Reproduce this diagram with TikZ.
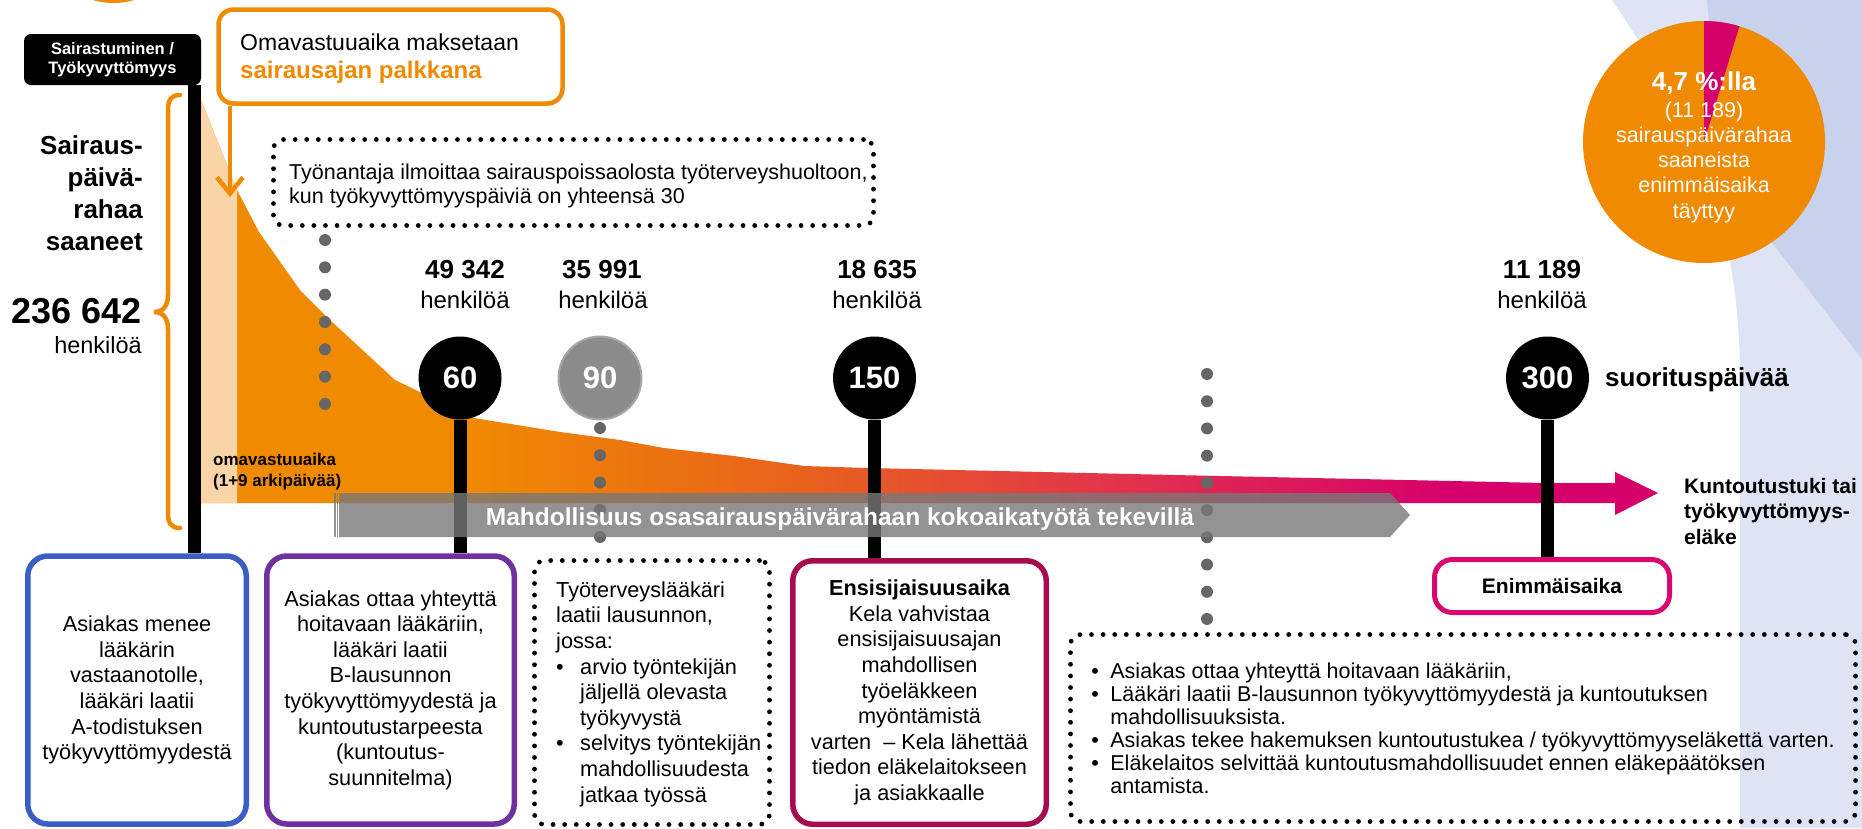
\documentclass[tikz,border=0pt]{standalone}
\usepackage{fontspec}
\setmainfont{Liberation Sans}
\usetikzlibrary{arrows.meta}
\definecolor{orng}{HTML}{F08A00}
\definecolor{peach}{HTML}{F8D4A6}
\definecolor{pk}{HTML}{D6006B}
\definecolor{midA}{HTML}{E8601E}
\definecolor{midB}{HTML}{E2354A}
\definecolor{bblue}{HTML}{3A5EC6}
\definecolor{bpurp}{HTML}{7030A0}
\definecolor{bred}{HTML}{A50D4F}
\definecolor{bpink}{HTML}{D8086E}
\definecolor{bglight}{HTML}{DEE4F3}
\definecolor{bgdark}{HTML}{C8D2EC}
\definecolor{dotgray}{HTML}{666666}
\definecolor{bandgray}{HTML}{787878}
\definecolor{cgray}{HTML}{8C8C8C}
\definecolor{cgrayedge}{HTML}{A6A6A6}
\pgfdeclarehorizontalshading{flow}{100bp}{color(0bp)=(orng); color(34bp)=(orng); color(46bp)=(midA); color(56bp)=(midB); color(68bp)=(pk); color(100bp)=(pk)}
\tikzset{
  body/.style={font=\fontsize{21.7}{25.6}\selectfont},
  rbox/.style={rounded corners=20pt, line width=5.5pt, align=center, inner sep=0pt, body},
  dotbox/.style={draw=black, line width=4.8pt, dash pattern=on 0pt off 11.6pt, line cap=round, rounded corners=10pt, inner sep=0pt},
  circ/.style={circle, fill=black, minimum size=83pt, inner sep=0pt, text=white, font=\bfseries\fontsize{31}{31}\selectfont},
  stick/.style={line width=13pt, black},
  gdots/.style={line width=12pt, dotgray, dash pattern=on 0pt off 27.25pt, line cap=round},
  bignum/.style={font=\bfseries\fontsize{26}{30}\selectfont, anchor=base, inner sep=0pt},
  pers/.style={font=\fontsize{24}{28}\selectfont, anchor=base, inner sep=0pt},
}
\begin{document}
\begin{tikzpicture}[x=1pt,y=-1pt]
\useasboundingbox (0,0) rectangle (1862,828);
\clip (0,0) rectangle (1862,828);
% background
\fill[bglight] (1612,0) .. controls (1700,130) and (1740,230) .. (1740,380) -- (1740,828) -- (1862,828) -- (1862,0) -- cycle;
\fill[bgdark] (1707,0) -- (1862,0) -- (1862,359) -- (1722,178) -- cycle;
\fill[orng] (113.5,-68.5) circle[radius=71.5pt];
% pie
\fill[orng] (1704,142) circle[radius=121pt];
\fill[pk] (1704,142) -- (1704,21) arc[start angle=90, end angle=73, radius=121pt] -- cycle;
% flow
\shade[shading=flow] (201,100) -- (237,190) -- (259,232) -- (300,290) -- (330,320) -- (395,380) -- (474,418) -- (560,432) -- (620,440) -- (664,448) -- (734,456) -- (804,466) -- (868,468) -- (1174,475) -- (1544,483) -- (1615,483) -- (1615,472) -- (1658,493) -- (1615,515) -- (1615,503) -- (201,503) -- cycle;
\fill[peach] (201,100) -- (237,190) -- (237,503) -- (201,503) -- cycle;
% brace
\draw[orng, line width=4.5pt, line cap=round] (180,95) .. controls (171,95) and (168,100) .. (168,110) -- (168,295) .. controls (168,306) and (163,312) .. (154,312) .. controls (163,312) and (168,318) .. (168,329) -- (168,513) .. controls (168,523) and (171,528) .. (180,528);
% callout
\node[draw=orng, line width=4.5pt, rounded corners=15pt, minimum width=344pt, minimum height=94pt, inner sep=0pt] (om) at (390.5,56.5) {};
\node[anchor=north west, inner sep=0pt, align=left, font=\fontsize{23}{28}\selectfont] (omt) at (240,34) {Omavastuuaika maksetaan\\{\bfseries\color{orng}\fontsize{24}{28}\selectfont sairausajan palkkana}};
\coordinate (omtip) at (230,197);
\draw[orng, line width=4.5pt, -{Straight Barb[length=16pt, width=26pt]}] (om.south -| omtip) -- (omtip);
% top dotted box
\node[dotbox, minimum width=600pt, minimum height=86pt] (tb) at (573.5,182.5) {};
\node[anchor=west, inner sep=0pt, align=left, font=\fontsize{21.5}{24.5}\selectfont] (tbt) at (289,186) {Työnantaja ilmoittaa sairauspoissaolosta työterveyshuoltoon,\\kun työkyvyttömyyspäiviä on yhteensä 30};
% gray dot columns
\coordinate (d1a) at (325,240); \coordinate (d1b) at (325,404.5);
\coordinate (d2a) at (600,428); \coordinate (d2b) at (600,537.5);
\coordinate (d3a) at (1207,374); \coordinate (d3b) at (1207,619.5);
\draw[gdots, dash pattern=on 0pt off 27.33pt] (d1a) -- (d1b);
\draw[gdots] (d2a) -- (d2b);
\draw[gdots, dash pattern=on 0pt off 27.22pt] (d3a) -- (d3b);
% label box
\node[fill=black, rounded corners=7pt, minimum width=177pt, minimum height=51pt, inner sep=0pt, align=center, text=white, font=\bfseries\fontsize{16.5}{19}\selectfont] (lbl) at (112.5,59.5) {Sairastuminen /\\Työkyvyttömyys};
% boxes
\node[rbox, draw=bblue, minimum width=218.5pt, minimum height=268pt] (b1) at (137,690) {Asiakas menee\\lääkärin\\vastaanotolle,\\lääkäri laatii\\A-todistuksen\\työkyvyttömyydestä};
\node[rbox, draw=bpurp, minimum width=247.5pt, minimum height=268pt] (b2) at (390.5,690) {Asiakas ottaa yhteyttä\\hoitavaan lääkäriin,\\lääkäri laatii\\B-lausunnon\\työkyvyttömyydestä ja\\kuntoutustarpeesta\\(kuntoutus-\\suunnitelma)};
\node[dotbox, minimum width=235pt, minimum height=264pt] (b3) at (652,692.5) {};
\node[anchor=west, inner sep=0pt, align=left, body] (b3t) at (556,694) {Työterveyslääkäri\\laatii lausunnon,\\jossa:\\\makebox[24pt][l]{•}arvio työntekijän\\\hspace*{24pt}jäljellä olevasta\\\hspace*{24pt}työkyvystä\\\makebox[24pt][l]{•}selvitys työntekijän\\\hspace*{24pt}mahdollisuudesta\\\hspace*{24pt}jatkaa työssä};
\node[rbox, draw=bred, minimum width=253.5pt, minimum height=263.5pt] (b4) at (919.5,692.5) {{\bfseries Ensisijaisuusaika}\\Kela vahvistaa\\ensisijaisuusajan\\mahdollisen\\työeläkkeen\\myöntämistä\\varten\ \ – Kela lähettää\\tiedon eläkelaitokseen\\ja asiakkaalle};
\node[dotbox, minimum width=785pt, minimum height=187pt, align=left, font=\fontsize{21.5}{23}\selectfont] (b5) at (1463,728) {\makebox[19pt][l]{•}Asiakas ottaa yhteyttä hoitavaan lääkäriin,\\\makebox[19pt][l]{•}Lääkäri laatii B-lausunnon työkyvyttömyydestä ja kuntoutuksen\\\hspace*{19pt}mahdollisuuksista.\\\makebox[19pt][l]{•}Asiakas tekee hakemuksen kuntoutustukea / työkyvyttömyyseläkettä varten.\\\makebox[19pt][l]{•}Eläkelaitos selvittää kuntoutusmahdollisuudet ennen eläkepäätöksen\\\hspace*{19pt}antamista.};
\node[rbox, draw=bpink, line width=5pt, rounded corners=18pt, minimum width=235pt, minimum height=53pt, font=\bfseries\fontsize{21}{25}\selectfont] (b6) at (1552,586) {Enimmäisaika};
% circles
\node[circ] (c60) at (460,378) {60};
\node[circ, fill=cgray, draw=cgrayedge, line width=2pt] (c90) at (600,378) {90};
\node[circ] (c150) at (874.5,378) {150};
\node[circ] (c300) at (1547.5,378) {300};
% sticks
\draw[stick] ([xshift=-6.5pt]lbl.south east) -- ([xshift=-6.5pt]lbl.south east |- b1.north);
\draw[stick] (c60.south) -- (c60.south |- b2.north);
\draw[stick] (c150.south) -- (c150.south |- b4.north);
\draw[stick] (c300.south) -- (c300.south |- b6.north);
% band
\fill[bandgray, opacity=0.8] (339,493) -- (1390,493) -- (1410,515) -- (1390,537) -- (339,537) -- cycle;
\fill[bandgray, opacity=0.8] (334,493) rectangle (335.5,537);
\fill[bandgray, opacity=0.8] (336.8,493) rectangle (338,537);
\node[text=white, inner sep=0pt, font=\bfseries\fontsize{24.5}{28}\selectfont] (mt) at (840,519) {Mahdollisuus osasairauspäivärahaan kokoaikatyötä tekevillä};
% texts
\node[anchor=north west, inner sep=0pt, align=left, font=\bfseries\fontsize{17}{21}\selectfont] (omv) at (213,453) {omavastuuaika\\(1+9 arkipäivää)};
\node[anchor=north east, inner sep=0pt, align=right, font=\bfseries\fontsize{26}{32}\selectfont] (sp) at (143,135) {Sairaus-\\päivä-\\rahaa\\saaneet};
\node[anchor=base east, inner sep=0pt, font=\bfseries\fontsize{36}{40}\selectfont] (tot) at (142,323) {236 642};
\node[anchor=base east, inner sep=0pt, font=\fontsize{23.5}{28}\selectfont] (totp) at (142,353) {henkilöä};
\node[bignum] (n60) at (465,278) {49 342};
\node[pers] (p60) at (465,308) {henkilöä};
\node[bignum] (n90) at (602,278) {35 991};
\node[pers] (p90) at (603,308) {henkilöä};
\node[bignum] (n150) at (877,278) {18 635};
\node[pers] (p150) at (877,308) {henkilöä};
\node[bignum] (n300) at (1542,278) {11 189};
\node[pers] (p300) at (1542,308) {henkilöä};
\node[anchor=west, inner sep=0pt, font=\bfseries\fontsize{26}{30}\selectfont] (suor) at (1605,380) {suorituspäivää};
\node[anchor=north west, inner sep=0pt, align=left, font=\bfseries\fontsize{21}{25.5}\selectfont] (kt) at (1684,478) {Kuntoutustuki tai\\työkyvyttömyys-\\eläke};
\node[anchor=base, inner sep=0pt, text=white, font=\bfseries\fontsize{26}{30}\selectfont] (pct) at (1704,90) {4,7 \%:lla};
\node[anchor=north, inner sep=0pt, align=center, text=white, font=\fontsize{21.5}{25.2}\selectfont] (pdesc) at (1704,101.5) {(11 189)\\sairauspäivärahaa\\saaneista\\enimmäisaika\\täyttyy};
\end{tikzpicture}
\end{document}
